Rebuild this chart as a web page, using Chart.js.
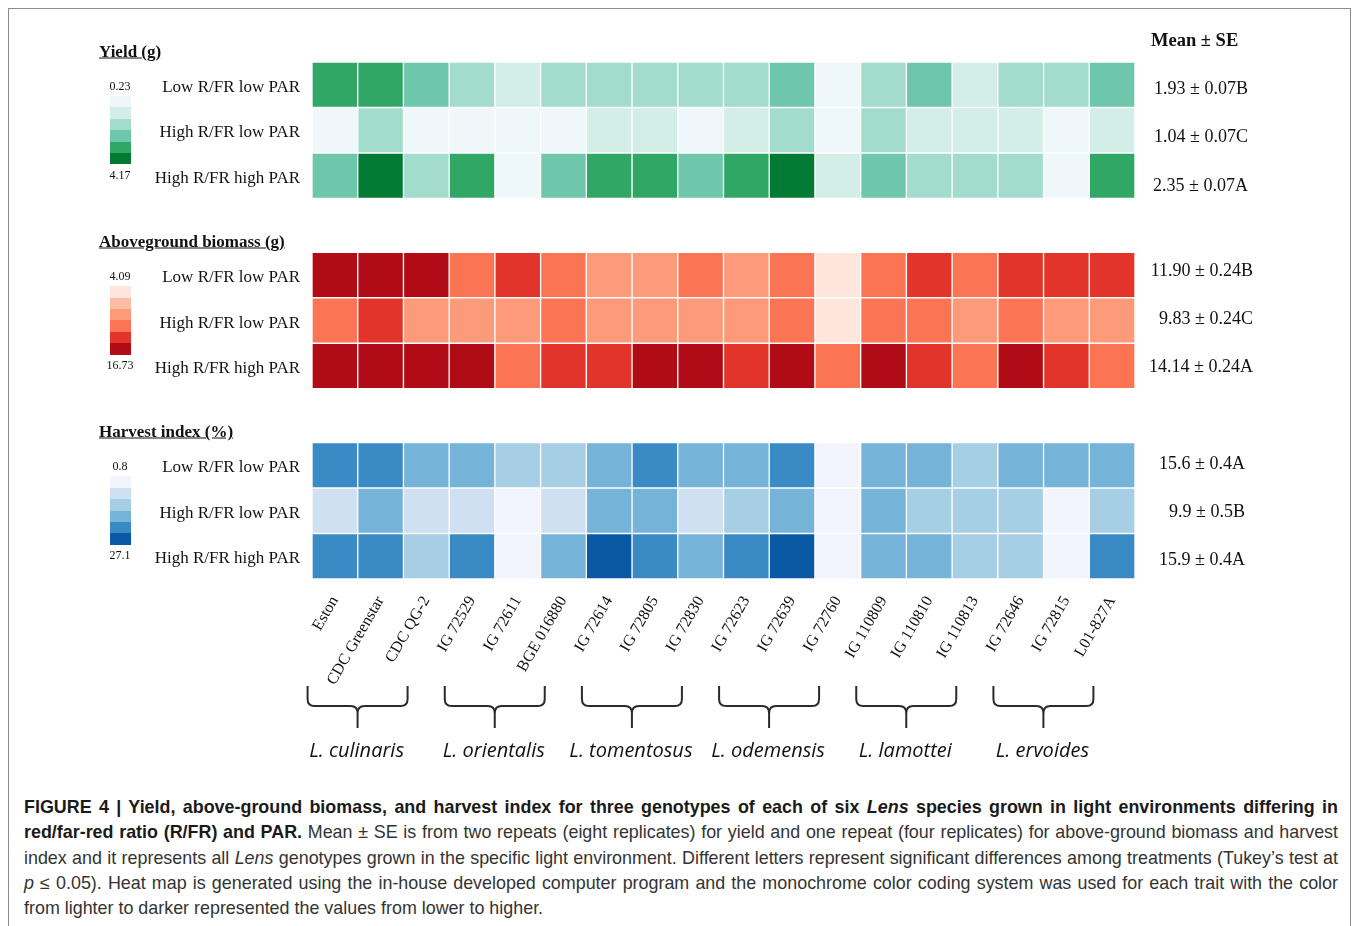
<!DOCTYPE html>
<html>
<head>
<meta charset="utf-8">
<script src="https://cdn.jsdelivr.net/npm/chart.js@4.4.1/dist/chart.umd.min.js"></script>
<style>
  body { margin: 0; background: #fff; width: 1358px; height: 926px; position: relative; overflow: hidden; font-family: 'Liberation Serif', 'Times New Roman', serif; color: #111; }
  .frame { position: absolute; left: 8px; top: 8px; width: 1341px; height: 960px; border: 1px solid #8c8c8c; }
  #wrap { position: absolute; left: 0; top: 0; width: 1358px; height: 740px; }
  .t { position: absolute; white-space: nowrap; line-height: 1; }
  .title { font-weight: bold; font-size: 17px; text-decoration: underline; }
  .row { font-size: 17px; }
  .mean { font-size: 18px; }
  .leg { font-size: 12px; }
  .sw { position: absolute; width: 21px; }
  .sp { font-family: 'Open Sans', sans-serif; font-style: italic; font-size: 20px; color: #111; }
  .cap { position: absolute; left: 24px; top: 795px; width: 1314px; font-family: 'Liberation Sans', Arial, sans-serif; font-size: 17.9px; line-height: 25.3px; color: #333; }
  .cap div { text-align: justify; text-align-last: justify; white-space: nowrap; }
  .cap div.last { text-align-last: left; }
  .cap b { color: #1a1a1a; }
</style>
</head>
<body>
<div class="frame"></div>
<div id="wrap"><canvas id="heat"></canvas></div>
<div class="cap">
  <div><b>FIGURE 4 | Yield, above-ground biomass, and harvest index for three genotypes of each of six <i>Lens</i> species grown in light environments differing in</b></div>
  <div><b>red/far-red ratio (R/FR) and PAR.</b> Mean ± SE is from two repeats (eight replicates) for yield and one repeat (four replicates) for above-ground biomass and harvest</div>
  <div>index and it represents all <i>Lens</i> genotypes grown in the specific light environment. Different letters represent significant differences among treatments (Tukey’s test at</div>
  <div><i>p</i> ≤ 0.05). Heat map is generated using the in-house developed computer program and the monochrome color coding system was used for each trait with the color</div>
  <div class="last">from lighter to darker represented the values from lower to higher.</div>
</div>
<script>
const genotypes = ['Eston', 'CDC Greenstar', 'CDC QG-2', 'IG 72529', 'IG 72611', 'BGE 016880',
  'IG 72614', 'IG 72805', 'IG 72830', 'IG 72623', 'IG 72639', 'IG 72760',
  'IG 110809', 'IG 110810', 'IG 110813', 'IG 72646', 'IG 72815', 'L01-827A']
const species = ['L. culinaris', 'L. orientalis', 'L. tomentosus', 'L. odemensis', 'L. lamottei', 'L. ervoides']
const speciesStart = [0, 3, 6, 9, 12, 15]
const rowLabels = ['Low R/FR low PAR', 'High R/FR low PAR', 'High R/FR high PAR']

// colour class (0 = lightest ... 5 = darkest)
const yieldLevels = [
  [4, 4, 3, 2, 1, 2, 2, 2, 2, 2, 3, 0, 2, 3, 1, 2, 2, 3],
  [0, 2, 0, 0, 0, 0, 1, 1, 0, 1, 2, 0, 2, 1, 1, 1, 0, 1],
  [3, 5, 2, 4, 0, 3, 4, 4, 3, 4, 5, 1, 3, 2, 2, 2, 0, 4]
]
const biomassLevels = [
  [5, 5, 5, 3, 4, 3, 2, 2, 3, 2, 3, 0, 3, 4, 3, 4, 4, 4],
  [3, 4, 2, 2, 2, 3, 2, 2, 2, 2, 3, 0, 3, 3, 2, 3, 2, 2],
  [5, 5, 5, 5, 3, 4, 4, 5, 5, 4, 5, 3, 5, 4, 3, 5, 4, 3]
]
const harvestLevels = [
  [4, 4, 3, 3, 2, 2, 3, 4, 3, 3, 4, 0, 3, 3, 2, 3, 3, 3],
  [1, 3, 1, 1, 0, 1, 3, 3, 1, 2, 3, 0, 3, 2, 2, 2, 0, 2],
  [4, 4, 2, 4, 0, 3, 5, 4, 3, 4, 5, 0, 3, 3, 2, 2, 0, 4]
]
const yieldMeans = ['1.93 ± 0.07B', '1.04 ± 0.07C', '2.35 ± 0.07A']
const biomassMeans = ['11.90 ± 0.24B', '9.83 ± 0.24C', '14.14 ± 0.24A']
const harvestMeans = ['15.6 ± 0.4A', '9.9 ± 0.5B', '15.9 ± 0.4A']
const yieldRange = ['0.23', '4.17']
const biomassRange = ['4.09', '16.73']
const harvestRange = ['0.8', '27.1']

const greens = ['#eef8fa', '#d3eee6', '#a3dccd', '#6ec7aa', '#30a764', '#017a34']
const reds = ['#fee6dc', '#fcbda4', '#fc9a7a', '#fb7555', '#e2342a', '#b10c15']
const blues = ['#f2f5fd', '#cee0f1', '#a6cee4', '#75b3d8', '#3a8ac5', '#0a59a5']

const traits = [
  { name: 'Yield (g)', levels: yieldLevels, colors: greens, means: yieldMeans, range: yieldRange,
    meanRight: 1248, meanY: [88, 136, 185] },
  { name: 'Aboveground biomass (g)', levels: biomassLevels, colors: reds, means: biomassMeans, range: biomassRange,
    meanRight: 1253, meanY: [270, 318, 366] },
  { name: 'Harvest index (%)', levels: harvestLevels, colors: blues, means: harvestMeans, range: harvestRange,
    meanRight: 1245, meanY: [463, 511, 559] }
]
const blockStart = [0, 4.18, 8.36]
const yMax = 11.36

function addText(txt, x, y, cls, align) {
  const d = document.createElement('div')
  d.className = 't ' + cls
  d.textContent = txt
  d.style.left = x + 'px'
  d.style.top = y + 'px'
  const tx = align === 'right' ? '-100%' : align === 'center' ? '-50%' : '0'
  d.style.transform = 'translate(' + tx + ',-50%)'
  document.body.appendChild(d)
  return d
}

let datasets = []
traits.forEach((t, b) => {
  t.levels.forEach((row, r) => {
    datasets.push({
      label: t.name + ' ' + rowLabels[r],
      data: row.map(() => [blockStart[b] + r, blockStart[b] + r + 1]),
      backgroundColor: row.map(v => t.colors[v]),
      borderColor: '#ffffff',
      borderWidth: 1,
      borderSkipped: false,
      grouped: false,
      barPercentage: 1,
      categoryPercentage: 1
    })
  })
})

const bracePlugin = {
  id: 'braces',
  afterDraw(chart) {
    const x = chart.scales.x
    const ctx = chart.ctx
    ctx.save()
    ctx.strokeStyle = '#2b2b2b'
    ctx.lineWidth = 2
    speciesStart.forEach(s => {
      const c = (x.getPixelForValue(s) + x.getPixelForValue(s + 2)) / 2 - 23
      const w = 50, top = 686, mid = 706, bot = 728
      ctx.beginPath()
      ctx.moveTo(c - w, top)
      ctx.lineTo(c - w, mid - 7)
      ctx.quadraticCurveTo(c - w, mid, c - w + 7, mid)
      ctx.lineTo(c - 7, mid)
      ctx.quadraticCurveTo(c, mid, c, mid + 7)
      ctx.lineTo(c, bot)
      ctx.moveTo(c + w, top)
      ctx.lineTo(c + w, mid - 7)
      ctx.quadraticCurveTo(c + w, mid, c + w - 7, mid)
      ctx.lineTo(c + 7, mid)
      ctx.quadraticCurveTo(c, mid, c, mid + 7)
      ctx.stroke()
    })
    ctx.restore()
  }
}

const chart = new Chart(document.getElementById('heat').getContext('2d'), {
  type: 'bar',
  data: { labels: genotypes, datasets: datasets },
  plugins: [bracePlugin],
  options: {
    responsive: true,
    maintainAspectRatio: false,
    animation: false,
    layout: { padding: { left: 312, right: 223, top: 62, bottom: 0 } },
    plugins: { legend: { display: false }, tooltip: { enabled: false } },
    scales: {
      x: {
        grid: { display: false, drawTicks: false },
        border: { display: false },
        ticks: {
          autoSkip: false, minRotation: 60, maxRotation: 60, padding: 14,
          color: '#111', font: { family: 'Liberation Serif', size: 16 }
        },
        afterFit: s => { s.height = 161 }
      },
      y: { display: false, reverse: true, min: 0, max: yMax }
    }
  }
})

// text around the heat maps
const top0 = chart.chartArea.top
const unit = (chart.chartArea.bottom - chart.chartArea.top) / yMax
traits.forEach((t, b) => {
  const bt = top0 + blockStart[b] * unit
  addText(t.name, 99, bt - 11, 'title', 'left')
  rowLabels.forEach((lab, r) => addText(lab, 300, bt + (r + 0.5) * unit + 1, 'row', 'right'))
  t.means.forEach((m, r) => addText(m, t.meanRight, t.meanY[r], 'mean', 'right'))
  addText(t.range[0], 120, bt + 24, 'leg', 'center')
  addText(t.range[1], 120, bt + 113, 'leg', 'center')
  t.colors.forEach((c, i) => {
    const d = document.createElement('div')
    d.className = 'sw'
    d.style.left = '110px'
    d.style.top = (bt + 34 + i * 11.4) + 'px'
    d.style.height = '11.4px'
    d.style.background = c
    document.body.appendChild(d)
  })
})
addText('Mean ± SE', 1151, 40, 'title', 'left').style.cssText += ';text-decoration:none;font-size:18.5px'
const xs = chart.scales.x
species.forEach((n, i) => {
  const c = (xs.getPixelForValue(speciesStart[i]) + xs.getPixelForValue(speciesStart[i] + 2)) / 2 - 24
  addText(n, c, 750, 'sp', 'center')
})
</script>
</body>
</html>
